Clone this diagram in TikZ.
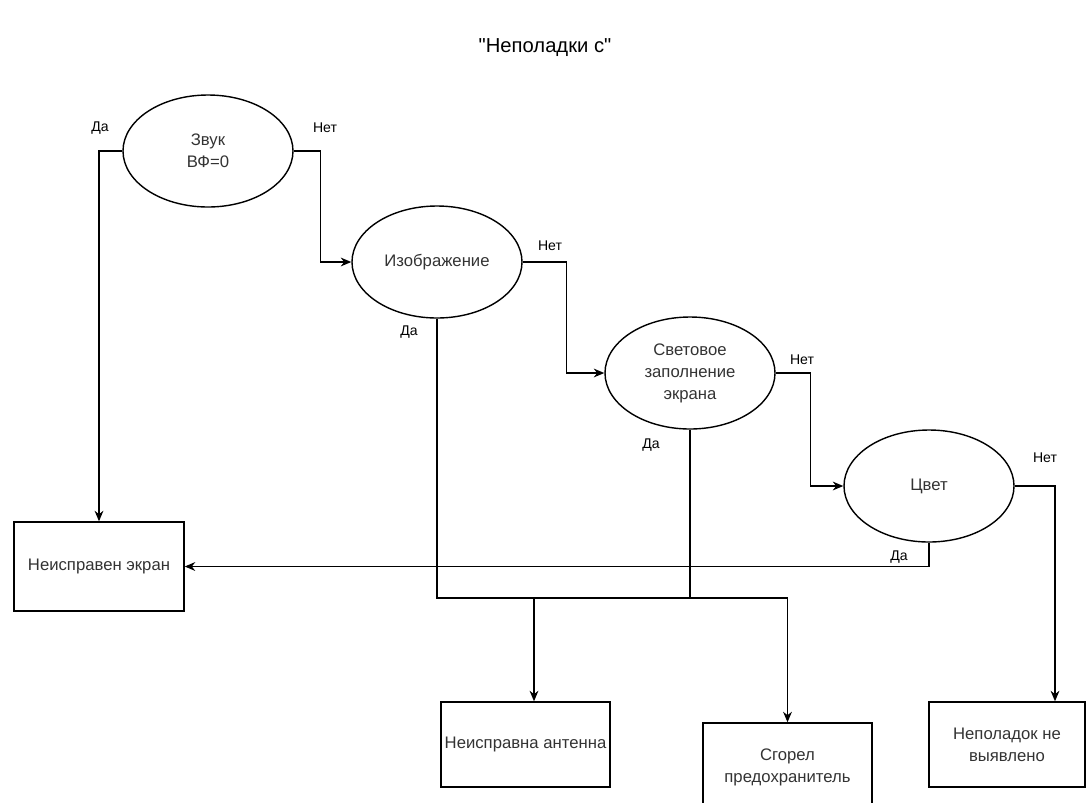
\documentclass[tikz,border=0pt]{standalone}
\usepackage{fontspec}
\setmainfont{Liberation Sans}
\newfontfamily\titlefont{Liberation Sans}
\usetikzlibrary{shapes.geometric,arrows.meta}

\begin{document}
\begin{tikzpicture}[cond/.style = {draw, ellipse, minimum width=3.4cm, minimum height=2.24cm, inner sep=0pt, align=center, text=black!80, font=\fontsize{9.5}{12.5}\selectfont},
		res/.style = {draw, rectangle, minimum width=3.4cm, minimum height=1.7cm, inner sep=1pt, align=center, text=black!80, font=\fontsize{9.5}{12.5}\selectfont},
		lbl/.style = {font=\fontsize{8}{10}\selectfont},
		line width=0.8pt, >={Stealth[length=6pt,width=5pt]}]
		\useasboundingbox (0,0) rectangle (21.74,-16.04);
		\node (title) at (10.9,-0.95) {\titlefont\fontsize{11.5}{14}\selectfont "Неполадки с"};
		% conditions
		\node[cond] (zvuk) at (4.16,-3.02) {Звук\\ВФ=0};
		\node[cond] (izob) at (8.74,-5.24) {Изображение};
		\node[cond] (svet) at (13.8,-7.46) {Световое\\заполнение\\экрана};
		\node[cond] (cvet) at (18.58,-9.72) {Цвет};
		% results
		\node[res, minimum height=1.78cm] (ekran) at (1.98,-11.33) {Неисправен экран};
		\node[res, minimum width=3.38cm] (antenna) at (10.51,-14.89) {Неисправна антенна};
		\node[res, minimum width=3.38cm, minimum height=1.76cm] (predo) at (15.75,-15.34) {Сгорел\\предохранитель};
		\node[res, minimum width=3.12cm] (nevyav) at (20.14,-14.89) {Неполадок не\\выявлено};
		\coordinate (bus) at (0,-11.96);
		% labels
		\node[lbl] (da1) at (2.0,-2.56) {Да};
		\node[lbl] (net1) at (6.5,-2.56) {Нет};
		\node[lbl] (net2) at (11.0,-4.92) {Нет};
		\node[lbl] (da2) at (8.18,-6.64) {Да};
		\node[lbl] (net3) at (16.04,-7.2) {Нет};
		\node[lbl] (da3) at (13.02,-8.9) {Да};
		\node[lbl] (net4) at (20.9,-9.16) {Нет};
		\node[lbl] (da4) at (17.98,-11.14) {Да};
		% connectors
		\draw[->] (zvuk.west) -| (ekran.north);
		\draw[->] (zvuk.east) -- ++(0.54,0) |- (izob.west);
		\draw[->] (izob.east) -- ++(0.88,0) |- (svet.west);
		\draw[->] (svet.east) -- ++(0.7,0) |- (cvet.west);
		\draw[->] (cvet.east) -| ([xshift=0.96cm]nevyav.north);
		\draw[->] (cvet.south) |- (ekran.east);
		\draw[->] (izob.south) -- (izob.south |- bus) -| (predo.north);
		\draw (svet.south) -- (svet.south |- bus);
		\draw[->] ([xshift=0.17cm]antenna.north |- bus) -- ([xshift=0.17cm]antenna.north);
	\end{tikzpicture}
\end{document}
